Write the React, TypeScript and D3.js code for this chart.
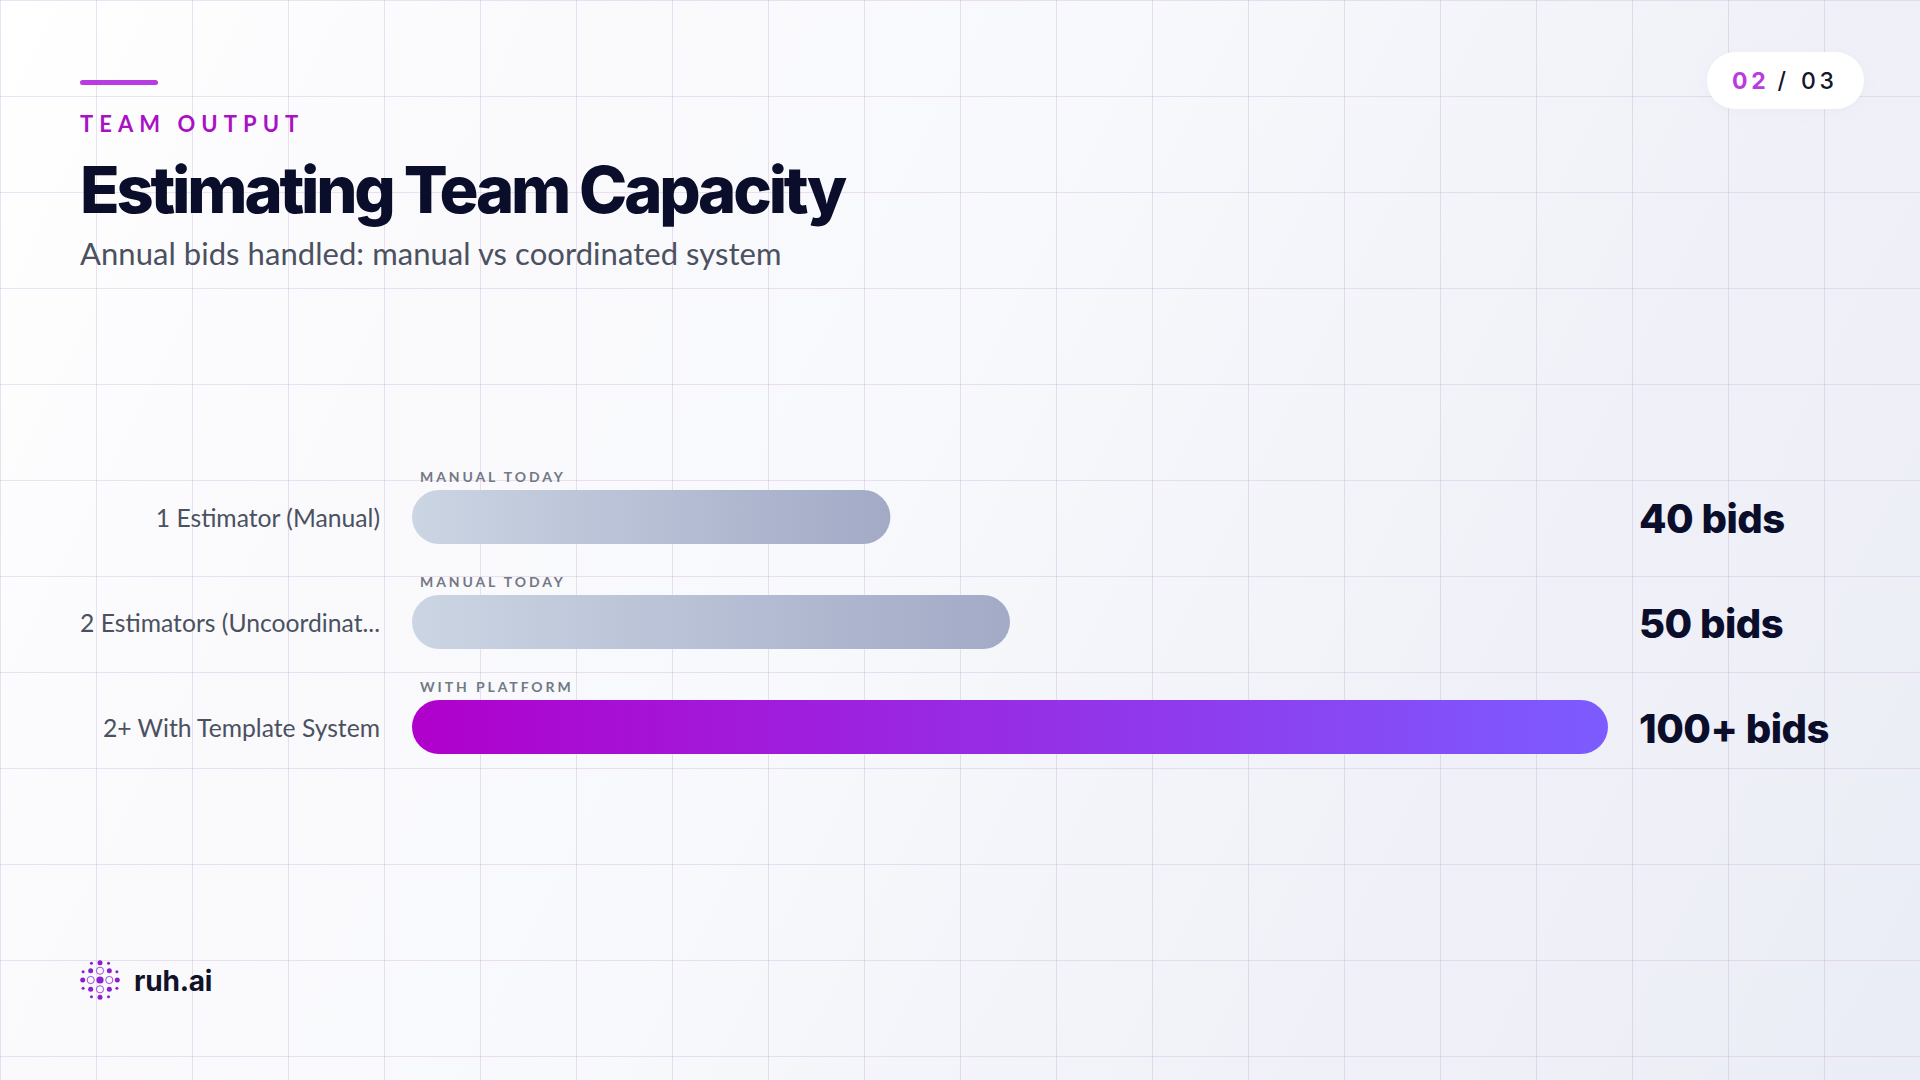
import React from "react";
import * as d3 from "d3";

const categories = ["1 Estimator (Manual)", "2 Estimators (Uncoordinat...", "2+ With Template System"];
const values = [40, 50, 100];
const valueLabels = ["40 bids", "50 bids", "100+ bids"];
const tags = ["MANUAL TODAY", "MANUAL TODAY", "WITH PLATFORM"];
const gradientIds = ["manualA", "manualB", "platform"];

const W = 1920, H = 1080;
const x = d3.scaleLinear().domain([0, 100]).range([412, 1608]);
const y = d3.scalePoint<string>().domain(categories).range([517, 727]);
const BAR_H = 54;
const gridX = d3.range(0, W + 1, 96);
const gridY = d3.range(0, H + 1, 96);
const head = "Inter, sans-serif";
const body = "Lato, sans-serif";

const ringAngles = d3.range(0, 360, 90);
const diagAngles = d3.range(45, 360, 90);
const smallAngles = [26, 63, 117, 154, 206, 243, 297, 334];
const pol = (deg: number, r: number) => [Math.cos((deg * Math.PI) / 180) * r, Math.sin((deg * Math.PI) / 180) * r];
const logoColor = "#8a1fd0";

export default function App() {
  return (
    <svg width={W} height={H} viewBox={`0 0 ${W} ${H}`} style={{ position: "fixed", left: 0, top: 0, display: "block" }}>
      <defs>
        <linearGradient id="bg" gradientUnits="userSpaceOnUse" x1={0} y1={0} x2={1963} y2={985}>
          <stop offset="0" stopColor="#ffffff" />
          <stop offset="0.22" stopColor="#fafafd" />
          <stop offset="0.45" stopColor="#f8f9fc" />
          <stop offset="0.75" stopColor="#f0f1f8" />
          <stop offset="1" stopColor="#ebedf6" />
        </linearGradient>
        {gradientIds.map((id, i) => (
          <linearGradient key={id} id={id} x1="0" y1="0" x2="1" y2="0">
            <stop offset="0" stopColor={i === 2 ? "#b000cc" : "#cbd5e3"} />
            <stop offset="1" stopColor={i === 2 ? "#7c5cff" : "#a2aac6"} />
          </linearGradient>
        ))}
        <filter id="pillShadow" x="-20%" y="-40%" width="140%" height="180%">
          <feDropShadow dx="0" dy="2" stdDeviation="6" floodColor="#8890b0" floodOpacity="0.08" />
        </filter>
      </defs>
      <rect width={W} height={H} fill="url(#bg)" />
      {gridX.map((g) => (
        <line key={`x${g}`} x1={g + 0.5} x2={g + 0.5} y1={0} y2={H} stroke="#b08fc8" strokeOpacity={0.25} />
      ))}
      {gridY.map((g) => (
        <line key={`y${g}`} y1={g + 0.5} y2={g + 0.5} x1={0} x2={W} stroke="#c090d0" strokeOpacity={0.25} />
      ))}

      <rect x={80} y={80} width={78} height={5} rx={2.5} fill="#b93ce0" />
      <text x={80} y={132} fontFamily={body} fontWeight={700} fontSize={22} letterSpacing={6.05} fill="#a912c4">TEAM OUTPUT</text>
      <text x={80} y={213} fontFamily={head} fontWeight={800} fontSize={65} letterSpacing={-3.2} fill="#0b0e2a">Estimating Team Capacity</text>
      <text x={80} y={265} fontFamily={body} fontSize={31} letterSpacing={0.05} fill="#4b5160">Annual bids handled: manual vs coordinated system</text>

      <rect x={1707} y={52} width={157} height={57} rx={28.5} fill="#ffffff" filter="url(#pillShadow)" />
      <text x={1732} y={89} fontFamily={head} fontSize={23} letterSpacing={3.8}>
        <tspan fill="#b83be0" fontWeight={700}>02</tspan>
        <tspan fill="#14162a" fontWeight={500} dx={8}>/</tspan>
        <tspan fill="#14162a" fontWeight={500} dx={11}>03</tspan>
      </text>

      {categories.map((c, i) => {
        const cy = y(c)!;
        return (
          <g key={c}>
            <text x={380} y={cy + 9.5} textAnchor="end" fontFamily={body} fontSize={24.7} fill="#4b5160">{c}</text>
            <text x={420} y={cy - 35} fontFamily={body} fontSize={14} fontWeight={700} letterSpacing={2.9} fill="#737885">{tags[i]}</text>
            <rect x={x(0)} y={cy - BAR_H / 2} width={x(values[i]) - x(0)} height={BAR_H} rx={27} fill={`url(#${gradientIds[i]})`} />
            <text x={1639} y={cy + 16} fontFamily={head} fontWeight={800} fontSize={40} letterSpacing={-0.5} fill="#0b0e2a">{valueLabels[i]}</text>
          </g>
        );
      })}

      <g transform="translate(100,980)" fill={logoColor}>
        <circle r={3.6} />
        {ringAngles.map((a) => {
          const [px, py] = pol(a, 9.3);
          const [ox, oy] = pol(a, 17.3);
          return (
            <g key={a}>
              <circle cx={px} cy={py} r={3.6} fill="none" stroke={logoColor} strokeWidth={0.8} />
              <circle cx={ox} cy={oy} r={2.5} />
            </g>
          );
        })}
        {diagAngles.map((a) => {
          const [px, py] = pol(a, 13.2);
          return <circle key={a} cx={px} cy={py} r={2.5} />;
        })}
        {smallAngles.map((a) => {
          const [px, py] = pol(a, 18.8);
          return <circle key={a} cx={px} cy={py} r={1.5} />;
        })}
      </g>
      <text x={134} y={991} fontFamily={head} fontWeight={700} fontSize={28} letterSpacing={-0.2} fill="#0f1228">ruh.ai</text>
    </svg>
  );
}
